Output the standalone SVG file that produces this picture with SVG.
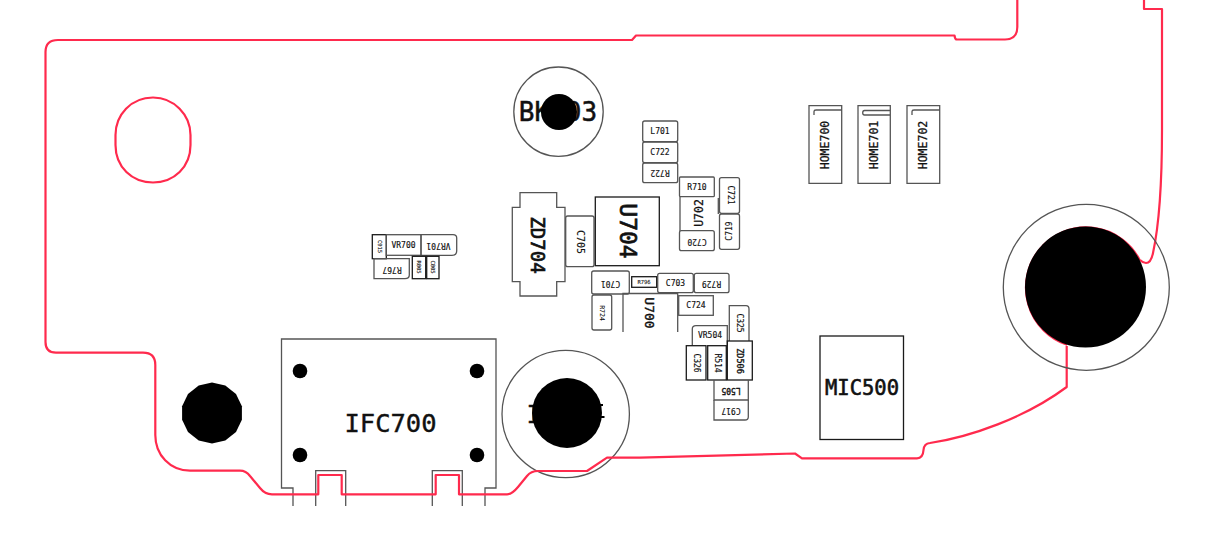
<svg xmlns="http://www.w3.org/2000/svg" width="1223" height="547" viewBox="0 0 1223 547">
<style>
.o{fill:none;stroke:#555;stroke-width:1.3}
.k{fill:none;stroke:#1a1a1a;stroke-width:1.3}
.b{fill:#000}
.r{fill:none;stroke:#ff2a4d;stroke-width:2.2;stroke-linejoin:round}
text{font-family:"DejaVu Sans Mono","Liberation Mono",monospace;fill:#111;stroke:#111;stroke-width:.25;text-anchor:middle;dominant-baseline:central}
.s{font-size:8px;stroke-width:.15}.t{font-size:5.500px;stroke-width:.1}.m{font-size:11.500px}.l{font-size:23px;stroke-width:.7}
</style>
<rect width="1223" height="547" fill="#fff"/>
<g id="BK703"><circle cx="558.500" cy="111.700" r="44.700" class="o"/><text x="558" y="112" style="font-size:26px;stroke-width:.5">BK703</text><circle cx="559" cy="112" r="18" class="b"/></g>
<g id="ZD704"><path class="o" d="M520 192.700H556.700V207.300H565V281.700H556.700V296H520V281.700H512.300V207.300H520Z"/><text class="l" transform="translate(538 245) rotate(90)" style="font-size:19px">ZD704</text></g>
<g id="C705"><rect class="o" x="565.700" y="216" width="28.300" height="50.700" rx="2"/><text class="s" transform="translate(580 242) rotate(90)" style="font-size:10px">C705</text></g>
<g id="U704"><rect class="k" x="595.300" y="197" width="64" height="68.700"/><text class="l" transform="translate(627.500 231) rotate(90)">U704</text></g>
<g id="L701"><rect class="o" x="642.700" y="121" width="35" height="20.700" rx="2"/><text class="s" x="660" y="131">L701</text></g>
<g id="C722"><rect class="o" x="642.700" y="142" width="35" height="20.700" rx="2"/><text class="s" x="660" y="152">C722</text></g>
<g id="R722"><rect class="o" x="642.700" y="163" width="35" height="19.700" rx="2"/><text class="s" transform="translate(660 172.500) rotate(180)">R722</text></g>
<g id="R710"><rect class="o" x="679.500" y="177" width="34.800" height="19.700" rx="1"/><text class="s" x="697" y="187">R710</text></g>
<g id="U702"><path class="o" d="M680 197V231M718.300 198V214"/><text class="m" transform="translate(699.300 213) rotate(270)">U702</text></g>
<g id="C720"><rect class="o" x="679.500" y="230.700" width="34.800" height="20" rx="2"/><text class="s" transform="translate(697 241) rotate(180)">C720</text></g>
<g id="C721"><rect class="o" x="719.500" y="177.700" width="20" height="35.600" rx="2"/><text class="s" transform="translate(730 195) rotate(90)">C721</text></g>
<g id="C719"><rect class="o" x="719.500" y="214" width="20" height="35.300" rx="2"/><text class="s" transform="translate(729 231) rotate(270)">C719</text></g>
<g id="C701"><rect class="o" x="591.700" y="271" width="37.600" height="23" rx="2"/><text class="s" transform="translate(610.500 283) rotate(180)">C701</text></g>
<g id="R796"><rect class="k" x="631.700" y="276.700" width="25" height="10.600"/><text class="t" x="644" y="282">R796</text></g>
<g id="C703"><rect class="o" x="657.700" y="273.300" width="35.600" height="19.400" rx="2"/><text class="s" x="675.500" y="283">C703</text></g>
<g id="R729"><rect class="o" x="694.300" y="273.300" width="34.700" height="19.400" rx="2"/><text class="s" transform="translate(711.500 283) rotate(180)">R729</text></g>
<g id="R724"><rect class="o" x="592" y="295" width="19.700" height="35" rx="2"/><text class="t" transform="translate(602 313) rotate(90)" style="font-size:6.500px">R724</text></g>
<g id="U700"><path class="o" d="M623 332V293.500H677.700V332"/><text class="m" transform="translate(649 313) rotate(90)" style="font-size:13px;stroke-width:.4">U700</text></g>
<g id="C724"><rect class="o" x="678.700" y="295.700" width="34.600" height="19.600"/><text class="s" x="696" y="305.500">C724</text></g>
<g id="VR504"><path class="o" d="M692.300 345.700V329Q692.300 325.700 696 325.700H727.300V345.700"/><text class="s" x="710" y="335.500">VR504</text></g>
<g id="C325"><path class="o" d="M729.300 341V305.700H746Q749 305.700 749 309V341"/><text class="s" transform="translate(739 323) rotate(90)">C325</text></g>
<g id="C326"><rect class="k" x="686.300" y="345.700" width="19.700" height="34.300"/><text class="s" transform="translate(696 363) rotate(90)">C326</text></g>
<g id="R514"><rect class="k" x="707.700" y="345.700" width="18.600" height="34.300"/><text class="s" transform="translate(717 363) rotate(90)">R514</text></g>
<g id="ZD506"><rect class="k" x="727.300" y="341" width="25" height="39"/><text class="s" transform="translate(740 361) rotate(90)" style="font-size:8.500px;stroke-width:.35">ZD506</text></g>
<g id="L505"><path class="o" d="M714 380V400H748.300V380"/><text class="s" transform="translate(731 390) rotate(180)" style="stroke-width:.35">L505</text></g>
<g id="C917"><path class="o" d="M714 400V420H745Q748.300 420 748.300 417V400"/><text class="s" transform="translate(731 410) rotate(180)">C917</text></g>
<g id="C915"><rect class="k" x="372.300" y="234.700" width="14" height="24"/><text class="t" transform="translate(379.500 246.500) rotate(90)">C915</text></g>
<g id="VR700"><rect class="o" x="386.300" y="234.700" width="34.700" height="20.600"/><text class="s" x="403.500" y="245">VR700</text></g>
<g id="VR701"><path class="o" d="M421 234.700H453Q456.700 234.700 456.700 238V251Q456.700 255.300 452 255.300H421Z"/><text class="s" transform="translate(438.500 245) rotate(180)">VR701</text></g>
<g id="R767"><path class="o" d="M374 258.700H409.300V275Q409.300 278.700 405 278.700H374Z"/><text class="s" transform="translate(392 269) rotate(180)">R767</text></g>
<g id="R805"><rect class="k" x="412.300" y="256.300" width="13.400" height="22.400"/><text class="t" transform="translate(419 267) rotate(90)">R805</text></g>
<g id="C805"><rect class="k" x="426.700" y="256.300" width="12.300" height="22.400"/><text class="t" transform="translate(433 267) rotate(90)">C805</text></g>
<g id="HOME700"><path class="o" d="M809 183.300V105.700H841.700V183.300ZM814 115V111.500Q814 110 816 110H841.700"/><text class="m" transform="translate(825 145) rotate(270)">HOME700</text></g>
<g id="HOME701"><path class="o" d="M858 183.300V105.700H890.300V183.300ZM890.300 110.500H864.500Q862.700 110.500 862.700 112.800Q862.700 115 864.500 115H890.300"/><text class="m" transform="translate(874 145) rotate(270)">HOME701</text></g>
<g id="HOME702"><path class="o" d="M907 183.300V105.700H939.700V183.300ZM912 115V111.500Q912 110 914 110H939.700"/><text class="m" transform="translate(923.300 145) rotate(270)">HOME702</text></g>
<g id="MIC500"><rect class="k" x="820" y="336" width="83.500" height="103.500"/><text x="862" y="388" style="font-size:20.500px;stroke-width:.6">MIC500</text></g>
<g id="IFC700"><path class="o" d="M293 506V488H281.500V339H496V488H485V506M315.700 506V470.700H345.700V506M432.300 506V470.700H462.300V506"/><circle cx="300" cy="371" r="7.300" class="b"/><circle cx="477" cy="371" r="7.300" class="b"/><circle cx="300" cy="455" r="7.300" class="b"/><circle cx="477" cy="455" r="7.300" class="b"/><text x="390.500" y="423" style="font-size:25.500px;stroke-width:.4">IFC700</text></g>
<g id="hole-left"><polygon class="b" points="212,382.500 225.300,385.500 236,393.900 241.900,406.200 241.900,419.800 236,432.100 225.300,440.500 212,443.500 198.700,440.500 188,432.100 182.100,419.800 182.100,406.200 188,393.900 198.700,385.500"/></g>
<g id="hole-mid"><circle cx="565.700" cy="414" r="63.700" class="o"/><text x="534" y="414" style="font-size:25px;stroke-width:.4">I</text><path d="M598 405H603M598 417H604.500" stroke="#000" stroke-width="2" fill="none"/><circle cx="567" cy="413" r="35" class="b"/></g>
<g id="outline"><path class="r" d="M1017.300 0V27Q1017.300 39.500 1005 39.500H957Q955 39.500 954.500 35.500H636L632 40H58Q45.500 40 45.500 52V342Q45.500 352.700 56 352.700H143Q155.300 352.700 155.300 365V435C155.300 455 170 470.700 190 470.700H240Q246 470.700 250 476L260 488Q265 494.300 272 494.300H318.300V475H341.700V494.300H435.700V475H459V494.300H507Q512 494.300 518 487L527 476Q531 471 538 471H587L607 457.700H640L795 453.500L802 458.300H917Q923 458.300 923.500 450Q924 443.500 930 443C970 437 1025 418 1066.700 387V346"/><path class="r" d="M1144 0V9H1162V130C1162 190 1158 230 1153 253Q1151 263 1146 263Q1143 263 1140 260"/><path class="r" d="M153 97.500C131 97.500 115.500 115 115.500 135V145C115.500 167 132 182.500 153 182.500C174 182.500 190.500 167 190.500 145V135C190.500 115 174 97.500 153 97.500Z"/></g>
<g id="hole-right"><circle cx="1086.300" cy="287.300" r="83" class="o"/><path d="M1067 345A60.500 60.500 0 1 1 1140 260" fill="none" stroke="#ff2a4d" stroke-width="1.600"/><circle cx="1085.500" cy="287" r="60.500" class="b"/></g>
</svg>
